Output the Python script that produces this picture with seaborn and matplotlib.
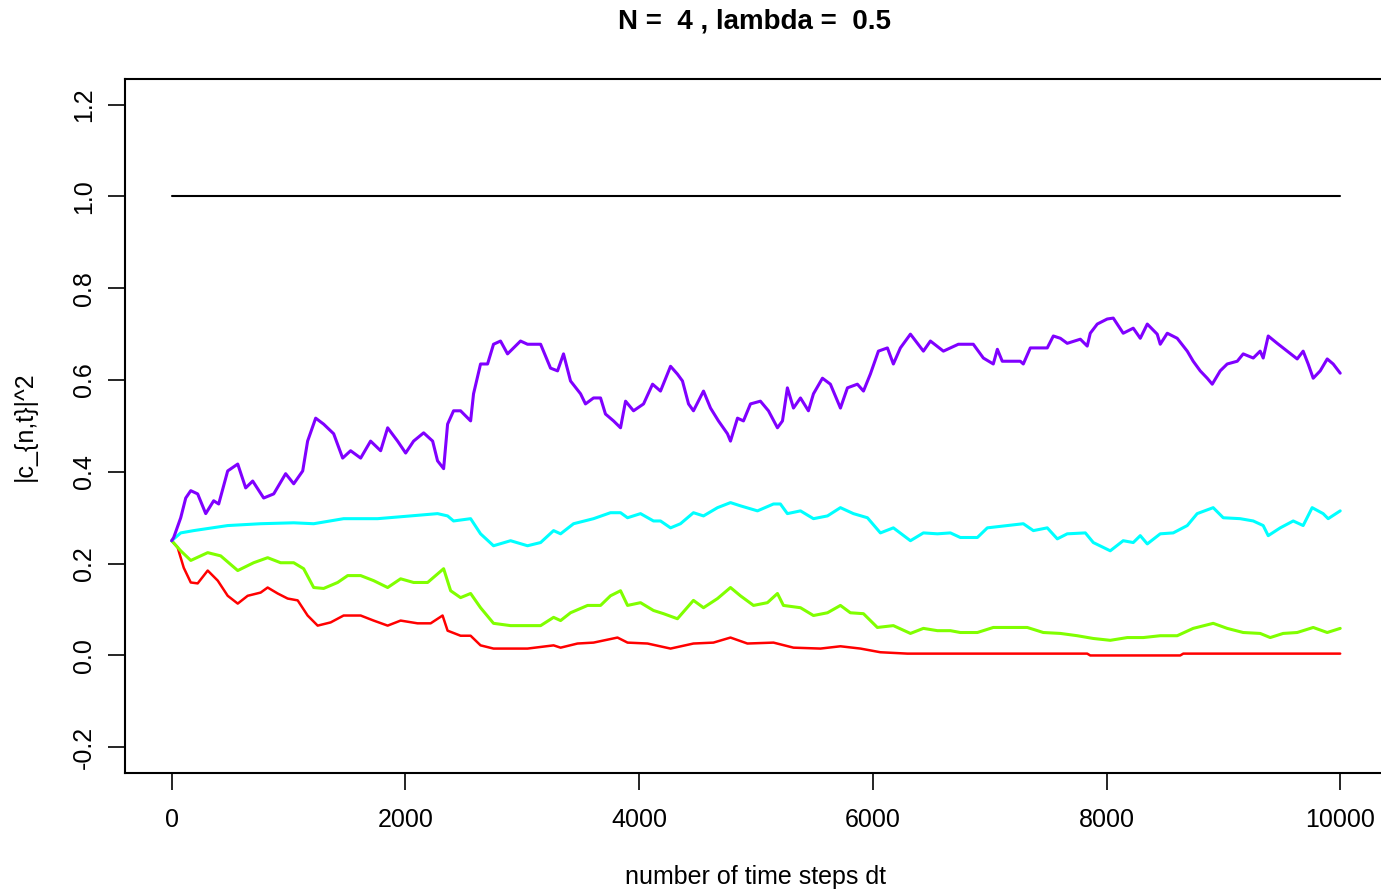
import numpy as np
import pandas as pd
import matplotlib
matplotlib.use("Agg")
import matplotlib.pyplot as plt
import seaborn as sns

# |c_{n,t}|^2, one (steps, value) pair list per level
red_t = [0, 51, 103, 163, 222, 308, 394, 479, 565, 650, 761, 821, 907, 992, 1078, 1163, 1249,
         1360, 1471, 1617, 1728, 1848, 1959, 2104, 2216, 2318, 2361, 2472, 2558, 2643, 2754,
         3045, 3268, 3328, 3473, 3610, 3815, 3901, 4072, 4269, 4465, 4636, 4782, 4927, 5150,
         5321, 5552, 5723, 5894, 6065, 6296, 6749, 7835, 7861, 8631, 8657, 10000]
red_v = [0.250, 0.235, 0.191, 0.159, 0.157, 0.185, 0.163, 0.130, 0.113, 0.130, 0.137, 0.148,
         0.135, 0.124, 0.120, 0.087, 0.065, 0.072, 0.087, 0.087, 0.076, 0.065, 0.076, 0.070,
         0.070, 0.087, 0.054, 0.043, 0.043, 0.022, 0.015, 0.015, 0.022, 0.017, 0.026, 0.028,
         0.039, 0.028, 0.026, 0.015, 0.026, 0.028, 0.039, 0.026, 0.028, 0.017, 0.015, 0.020,
         0.015, 0.007, 0.004, 0.004, 0.004, 0.000, 0.000, 0.004, 0.004]

green_t = [0, 77, 163, 308, 419, 565, 701, 821, 932, 1044, 1129, 1215, 1300, 1420, 1506, 1617,
           1728, 1848, 1959, 2070, 2190, 2327, 2387, 2472, 2558, 2643, 2754, 2900, 3045, 3157,
           3268, 3328, 3413, 3559, 3670, 3755, 3841, 3901, 4012, 4123, 4209, 4328, 4465, 4551,
           4671, 4782, 4867, 4979, 5098, 5184, 5235, 5381, 5492, 5612, 5723, 5808, 5920, 6039,
           6176, 6322, 6433, 6553, 6664, 6749, 6895, 7031, 7202, 7322, 7459, 7605, 7750, 7887,
           8032, 8178, 8315, 8460, 8605, 8742, 8913, 9033, 9170, 9315, 9401, 9512, 9632, 9769,
           9889, 10000]
green_v = [0.250, 0.228, 0.207, 0.224, 0.217, 0.185, 0.202, 0.213, 0.202, 0.202, 0.189, 0.148,
           0.146, 0.159, 0.174, 0.174, 0.163, 0.148, 0.167, 0.159, 0.159, 0.189, 0.141, 0.126,
           0.135, 0.104, 0.070, 0.065, 0.065, 0.065, 0.083, 0.076, 0.093, 0.109, 0.109, 0.130,
           0.141, 0.109, 0.115, 0.098, 0.091, 0.080, 0.120, 0.104, 0.124, 0.148, 0.130, 0.109,
           0.115, 0.135, 0.109, 0.104, 0.087, 0.093, 0.109, 0.093, 0.091, 0.061, 0.065, 0.048,
           0.059, 0.054, 0.054, 0.050, 0.050, 0.061, 0.061, 0.061, 0.050, 0.048, 0.043, 0.037,
           0.033, 0.039, 0.039, 0.043, 0.043, 0.059, 0.070, 0.059, 0.050, 0.048, 0.039, 0.048,
           0.050, 0.061, 0.050, 0.059]

cyan_t = [0, 77, 188, 479, 761, 1044, 1215, 1471, 1762, 2044, 2275, 2361, 2412, 2558, 2643,
          2754, 2900, 3045, 3157, 3268, 3328, 3439, 3610, 3755, 3841, 3901, 4012, 4123, 4183,
          4269, 4354, 4465, 4551, 4671, 4782, 4867, 5013, 5150, 5209, 5269, 5381, 5492, 5612,
          5723, 5834, 5954, 6065, 6176, 6322, 6433, 6553, 6664, 6749, 6895, 6980, 7151, 7288,
          7374, 7493, 7579, 7664, 7819, 7887, 8032, 8143, 8229, 8289, 8349, 8460, 8571, 8691,
          8776, 8913, 8999, 9144, 9256, 9341, 9384, 9487, 9598, 9683, 9760, 9854, 9897, 10000]
cyan_v = [0.250, 0.267, 0.272, 0.283, 0.287, 0.289, 0.287, 0.298, 0.298, 0.304, 0.309, 0.304,
          0.293, 0.298, 0.265, 0.239, 0.250, 0.239, 0.246, 0.272, 0.265, 0.287, 0.298, 0.311,
          0.311, 0.300, 0.309, 0.293, 0.293, 0.278, 0.287, 0.311, 0.304, 0.322, 0.333, 0.326,
          0.315, 0.330, 0.330, 0.309, 0.315, 0.298, 0.304, 0.322, 0.309, 0.300, 0.267, 0.278,
          0.250, 0.267, 0.265, 0.267, 0.257, 0.257, 0.278, 0.283, 0.287, 0.272, 0.278, 0.254,
          0.265, 0.267, 0.246, 0.228, 0.250, 0.246, 0.261, 0.243, 0.265, 0.267, 0.283, 0.309,
          0.322, 0.300, 0.298, 0.293, 0.283, 0.261, 0.278, 0.293, 0.283, 0.322, 0.309, 0.298,
          0.315]

purple_t = [0, 17, 77, 120, 163, 222, 291, 359, 402, 479, 565, 633, 693, 787, 873, 975, 1044,
            1121, 1163, 1232, 1300, 1386, 1463, 1531, 1617, 1702, 1788, 1848, 1933, 2002, 2070,
            2156, 2233, 2275, 2327, 2361, 2412, 2472, 2558, 2583, 2643, 2703, 2754, 2814, 2874,
            2985, 3045, 3157, 3242, 3302, 3353, 3413, 3499, 3541, 3610, 3670, 3712, 3781, 3841,
            3884, 3952, 4038, 4115, 4183, 4269, 4328, 4371, 4423, 4465, 4551, 4611, 4679, 4756,
            4782, 4842, 4893, 4953, 5038, 5107, 5184, 5227, 5269, 5321, 5381, 5449, 5492, 5569,
            5637, 5723, 5783, 5868, 5920, 5979, 6048, 6125, 6176, 6236, 6322, 6433, 6493, 6604,
            6732, 6860, 6946, 7031, 7066, 7108, 7262, 7288, 7348, 7493, 7545, 7605, 7664, 7776,
            7835, 7861, 7921, 8006, 8058, 8143, 8229, 8289, 8349, 8434, 8460, 8520, 8605, 8691,
            8742, 8802, 8862, 8905, 8973, 9033, 9119, 9170, 9256, 9315, 9341, 9384, 9461, 9547,
            9632, 9683, 9726, 9769, 9829, 9889, 9940, 10000]
purple_v = [0.250, 0.257, 0.300, 0.343, 0.359, 0.352, 0.309, 0.337, 0.330, 0.402, 0.417, 0.365,
            0.380, 0.343, 0.352, 0.396, 0.374, 0.402, 0.467, 0.517, 0.504, 0.483, 0.430, 0.446,
            0.430, 0.467, 0.446, 0.496, 0.467, 0.441, 0.467, 0.485, 0.467, 0.424, 0.407, 0.504,
            0.533, 0.533, 0.511, 0.570, 0.635, 0.635, 0.678, 0.685, 0.657, 0.685, 0.678, 0.678,
            0.626, 0.620, 0.657, 0.598, 0.570, 0.548, 0.561, 0.561, 0.526, 0.511, 0.496, 0.554,
            0.533, 0.548, 0.591, 0.576, 0.630, 0.613, 0.598, 0.548, 0.533, 0.576, 0.539, 0.511,
            0.483, 0.467, 0.517, 0.511, 0.548, 0.554, 0.533, 0.496, 0.511, 0.583, 0.539, 0.561,
            0.533, 0.570, 0.604, 0.591, 0.539, 0.583, 0.591, 0.576, 0.613, 0.663, 0.670, 0.635,
            0.670, 0.700, 0.663, 0.685, 0.663, 0.678, 0.678, 0.648, 0.635, 0.667, 0.641, 0.641,
            0.635, 0.670, 0.670, 0.696, 0.691, 0.680, 0.689, 0.674, 0.702, 0.722, 0.733, 0.735,
            0.702, 0.713, 0.691, 0.722, 0.700, 0.678, 0.702, 0.691, 0.663, 0.641, 0.620, 0.604,
            0.591, 0.620, 0.635, 0.641, 0.657, 0.648, 0.663, 0.648, 0.696, 0.680, 0.663, 0.646,
            0.663, 0.635, 0.604, 0.620, 0.646, 0.635, 0.615]

# total probability stays at one
norm_t = [0, 10000]
norm_v = [1.0, 1.0]

levels = ["n1", "n2", "n3", "n4", "sum"]
colors = ["#FF0000", "#80FF00", "#00FFFF", "#8000FF", "#000000"]

frames = []
for name, t, v in zip(levels,
                      [red_t, green_t, cyan_t, purple_t, norm_t],
                      [red_v, green_v, cyan_v, purple_v, norm_v]):
    frames.append(pd.DataFrame({"t": t, "p": v, "level": name}))
df = pd.concat(frames, ignore_index=True)

sns.set_style("white")
plt.rcParams["font.family"] = ["Liberation Sans", "DejaVu Sans"]
plt.rcParams["text.color"] = "black"

fig = plt.figure(figsize=(13.81, 8.90), dpi=100)
ax = fig.add_axes([0.0905, 0.1315, 0.9138, 0.7798])

widths = {"n1": 1.8, "n2": 2.2, "n3": 2.2, "n4": 2.2, "sum": 1.5}
for name, col in zip(levels, colors):
    sub = df[df["level"] == name]
    sns.lineplot(data=sub, x="t", y="p", color=col, lw=widths[name],
                 estimator=None, sort=False, ax=ax, legend=False)

ax.set_xlim(-400, 10400)
ax.set_ylim(-0.256, 1.256)
ax.set_xticks([0, 2000, 4000, 6000, 8000, 10000])
ax.set_yticks([-0.2, 0.0, 0.2, 0.4, 0.6, 0.8, 1.0, 1.2])
ax.set_yticklabels(["-0.2", "0.0", "0.2", "0.4", "0.6", "0.8", "1.0", "1.2"],
                   rotation=90, va="center")
ax.tick_params(axis="both", direction="out", length=12, width=1.2, color="black",
               labelsize=18, labelcolor="black", bottom=True, left=True)
ax.tick_params(axis="x", pad=13)
ax.tick_params(axis="y", pad=9)
for s in ax.spines.values():
    s.set_color("black")
    s.set_linewidth(1.5)

ax.set_xlabel("number of time steps dt", fontsize=18, labelpad=24, color="black")
ax.set_ylabel("|c_{n,t}|^2", fontsize=18, labelpad=25, color="black")
fig.suptitle("N =  4 , lambda =  0.5", fontsize=20, fontweight="bold", x=0.546, y=0.99,
             color="black")

fig.savefig("out.png", dpi=100)
